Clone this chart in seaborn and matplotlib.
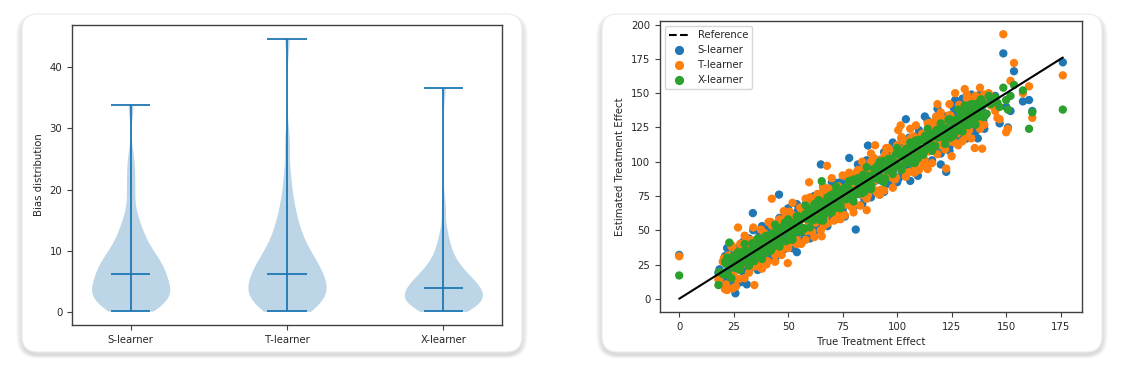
import numpy as np
import pandas as pd
import seaborn as sns
import matplotlib.pyplot as plt
from matplotlib.patches import FancyBboxPatch
from matplotlib.lines import Line2D

# --- data ---
learners = ["S-learner", "T-learner", "X-learner"]
colors = ["#1f77b4", "#ff7f0e", "#2ca02c"]

# bias samples (approximate quantiles of each violin)
bias_s = [0.1, 0.25, 0.6, 0.95, 1.25, 1.55, 1.85, 2.13, 2.39, 2.64, 2.9, 3.16, 3.42, 3.68, 3.93,
          4.3, 4.6, 4.9, 5.2, 5.55, 5.9, 6.5, 6.8, 7.0, 7.3, 7.6, 7.9, 8.25, 8.72, 9.2, 9.67,
          10.2, 10.9, 11.6, 12.4, 13.4, 14.5, 16.0, 19.2, 22.0, 25.0, 33.8]
bias_t = [0.05, 0.2, 0.55, 0.93, 1.23, 1.51, 1.79, 2.07, 2.35, 2.63, 2.9, 3.18, 3.45, 3.72, 3.99,
          4.4, 4.75, 5.1, 5.45, 5.8, 6.1, 6.3, 6.7, 7.1, 7.5, 7.9, 8.27, 8.72, 9.18, 9.64,
          10.18, 10.97, 11.75, 12.55, 13.46, 14.55, 15.7, 17.4, 19.4, 22.7, 28.0, 44.7]
bias_x = [0.05, 0.12, 0.36, 0.6, 0.82, 1.03, 1.19, 1.36, 1.52, 1.68, 1.85, 2.01, 2.17, 2.33,
          2.49, 2.65, 2.81, 3.1, 3.3, 3.55, 3.8, 4.0, 4.1, 4.4, 4.6, 4.8, 5.0, 5.13, 5.47, 5.81,
          6.15, 6.49, 6.9, 7.42, 7.94, 8.46, 9.2, 10.3, 11.6, 13.0, 17.0, 36.7]

# scatter: spread-out points and outliers
true_effect = [0, 18, 18.5, 20, 21, 22, 22.5, 23, 24, 24.5, 25, 25.8, 26.5, 27, 28, 29, 30, 31, 32, 33,
               33.8, 34.5, 35, 36, 37, 38, 39, 40, 41, 42, 42.5, 43, 44, 45, 45.8, 46.5, 47, 48, 49, 49.8,
               50.5, 51, 52, 53, 54, 55, 56, 57, 58, 59, 59.6, 60.5, 61, 62, 63, 64, 65, 65.4, 66, 67,
               67.8, 68.5, 69, 70, 71, 72, 73, 74, 75, 76, 77, 78, 79, 80, 81, 82, 83, 84, 85, 86,
               86.6, 88, 89, 89.9, 91, 92, 93, 94, 95, 96, 97, 98, 99, 100.5, 101.6, 103, 104, 105, 106, 107,
               108, 108.6, 109.5, 111, 112.7, 114, 115, 116, 118, 118.5, 120, 121, 122.5, 124, 125, 126.6, 128, 129, 131, 132,
               133, 134, 135.6, 137, 138, 139, 140, 141, 142, 143, 145, 146, 147, 148.7, 150, 150.8, 152, 153.6, 157.7, 160.5,
               162, 176]
est_s = [32, 19, 21.5, 16, 31, 20, 15.5, 28, 13, 25.5, 33, 4, 28.5, 14, 35, 28, 34, 10.5, 44, 30,
         62.5, 25.5, 38, 32, 47, 36, 32, 45, 30, 43, 50.5, 38, 46, 32, 76, 45.5, 51, 40, 61, 46.8,
         56.5, 42, 55, 49, 34, 53, 49, 62, 47, 60, 67.6, 55.5, 63, 49, 70, 63, 98, 57.4, 78, 64,
         73.8, 59.5, 72, 66, 81, 70, 66, 79, 64, 77, 85, 102.7, 81, 67, 50.5, 81, 87, 76, 97, 83,
         111.8, 79, 92, 85.9, 101, 90, 86, 78, 84, 97, 105, 93, 101, 87.5, 108.6, 102, 131, 97, 86, 104,
         114, 99.6, 89.7, 107, 133, 112, 108, 121, 107, 138.7, 98, 116, 92.6, 111, 132, 145, 132, 121, 143, 129,
         139, 125, 138.6, 117, 148, 137, 133, 146, 146, 144, 148, 140, 128, 179, 140, 125, 137, 166, 144, 145,
         137, 172.5]
est_t = [31, 14, 14.5, 27, 7, 6.4, 31.5, 17, 39, 7.6, 17, 30.8, 14.5, 52, 27, 35, 15, 33, 43, 26,
         23.8, 10, 31, 43, 23, 41, 48, 34, 56, 40, 73, 48, 32, 55, 44.8, 52.5, 32, 50, 60, 26,
         40.5, 63, 48, 60, 40, 58, 65, 51, 73, 57, 85, 65.5, 49, 72, 62, 70, 50, 45.6, 77, 60,
         97, 80.5, 65, 77, 57, 75, 82, 68, 90, 74, 69, 83, 67, 90, 80, 88, 68, 86, 96, 64.7,
         76.6, 100, 85, 112, 77, 95, 102, 88, 110, 94, 89, 103, 87, 123, 126.5, 109, 89, 107, 117, 100,
         92, 126.5, 105.5, 118, 98.7, 94.6, 124, 110, 133, 142, 112, 126, 95, 134, 104, 150, 113, 131, 153, 149,
         123, 146, 110, 144, 124, 109.5, 149, 135, 150, 141, 137, 132, 131, 193, 121.5, 124, 159, 172, 150, 155,
         132, 163]
est_x = [17, 10, 19.5, 18, 27, 18, 24.5, 41, 28, 23.5, 30, 22.8, 26.5, 34, 23, 31, 27, 35, 25, 34,
         36.8, 29.5, 36, 34, 43, 34, 41, 34, 45, 41, 47.5, 40, 44, 52, 40.8, 48.5, 44, 52, 42, 50.8,
         53.5, 46, 53, 51, 60, 51, 58, 51, 62, 58, 64.6, 57.5, 61, 69, 58, 66, 62, 85.8, 59, 68,
         70.8, 63.5, 70, 68, 77, 68, 75, 68, 79, 75, 82, 75, 79, 87, 76, 84, 80, 88, 78, 87,
         89.6, 83, 90, 87.9, 97, 88, 95, 88, 99, 95, 102, 95, 99, 107.5, 96.6, 105, 101, 109, 99, 108,
         111, 103.6, 110.5, 109, 118.7, 110, 117, 110, 122, 117.5, 125, 118, 122.5, 131, 120, 128.6, 125, 133, 141, 133,
         141, 129, 142, 135, 141, 135, 142, 135, 148, 142, 147, 143, 140, 154, 145, 138, 148, 156, 152, 124,
         136, 138]

# scatter: dense band along the diagonal
band_true = [20.5, 21.5, 22.5, 23.5, 24.5, 25.5, 26.5, 27.5, 28.5, 29.5, 30.5, 31.5, 32.5, 33.5, 34.5,
             35.5, 36.5, 37.5, 38.5, 39.5, 40.5, 41.5, 42.5, 43.5, 44.5, 45.5, 46.5, 47.5, 48.5, 49.5,
             50.5, 51.5, 52.5, 53.5, 54.5, 55.5, 56.5, 57.5, 58.5, 59.5, 60.5, 61.5, 62.5, 63.5, 64.5,
             65.5, 66.5, 67.5, 68.5, 69.5, 70.5, 71.5, 72.5, 73.5, 74.5, 75.5, 76.5, 77.5, 78.5, 79.5,
             80.5, 81.5, 82.5, 83.5, 84.5, 85.5, 86.5, 87.5, 88.5, 89.5, 90.5, 91.5, 92.5, 93.5, 94.5,
             95.5, 96.5, 97.5, 98.5, 99.5, 100.5, 101.5, 102.5, 103.5, 104.5, 105.5, 106.5, 107.5, 108.5, 109.5,
             110.5, 111.5, 112.5, 113.5, 114.5, 115.5, 116.5, 117.5, 118.5, 119.5, 120.5, 121.5, 122.5, 123.5, 124.5,
             125.5, 126.5, 127.5, 128.5, 129.5, 130.5, 131.5, 132.5, 133.5, 134.5, 135.5, 136.5, 137.5, 138.5, 139.5]
band_s = [12.5, 31.5, 19.5, 29.5, 12.5, 27.5, 35.5, 21.5, 40.5, 19.5, 34.5, 23.5, 42.5, 30.5, 40.5,
          23.5, 38.5, 46.5, 32.5, 51.5, 30.5, 45.5, 34.5, 53.5, 41.5, 51.5, 34.5, 49.5, 57.5, 43.5,
          62.5, 41.5, 56.5, 45.5, 64.5, 52.5, 62.5, 45.5, 60.5, 68.5, 54.5, 73.5, 52.5, 67.5, 56.5,
          75.5, 63.5, 73.5, 56.5, 71.5, 79.5, 65.5, 84.5, 63.5, 78.5, 67.5, 86.5, 74.5, 84.5, 67.5,
          82.5, 90.5, 76.5, 95.5, 74.5, 89.5, 78.5, 97.5, 85.5, 95.5, 78.5, 93.5, 101.5, 87.5, 106.5,
          85.5, 100.5, 89.5, 108.5, 96.5, 106.5, 89.5, 104.5, 112.5, 98.5, 117.5, 96.5, 111.5, 100.5, 119.5,
          107.5, 117.5, 100.5, 115.5, 123.5, 109.5, 128.5, 107.5, 122.5, 111.5, 130.5, 118.5, 128.5, 111.5, 126.5,
          134.5, 120.5, 139.5, 118.5, 133.5, 122.5, 141.5, 129.5, 139.5, 122.5, 137.5, 145.5, 131.5, 141.5, 129.5]
band_t = [29.5, 10.5, 26.5, 16.5, 37.5, 22.5, 33.5, 14.5, 29.5, 40.5, 25.5, 36.5, 23.5, 42.5, 23.5,
          39.5, 29.5, 50.5, 35.5, 46.5, 27.5, 42.5, 53.5, 38.5, 49.5, 36.5, 55.5, 36.5, 52.5, 42.5,
          63.5, 48.5, 59.5, 40.5, 55.5, 66.5, 51.5, 62.5, 49.5, 68.5, 49.5, 65.5, 55.5, 76.5, 61.5,
          72.5, 53.5, 68.5, 79.5, 64.5, 75.5, 62.5, 81.5, 62.5, 78.5, 68.5, 89.5, 74.5, 85.5, 66.5,
          81.5, 92.5, 77.5, 88.5, 75.5, 94.5, 75.5, 91.5, 81.5, 102.5, 87.5, 98.5, 79.5, 94.5, 105.5,
          90.5, 101.5, 88.5, 107.5, 88.5, 104.5, 94.5, 115.5, 100.5, 111.5, 92.5, 107.5, 118.5, 103.5, 114.5,
          101.5, 120.5, 101.5, 117.5, 107.5, 128.5, 113.5, 124.5, 105.5, 120.5, 131.5, 116.5, 127.5, 114.5, 133.5,
          114.5, 130.5, 120.5, 141.5, 126.5, 137.5, 118.5, 133.5, 144.5, 129.5, 140.5, 127.5, 146.5, 127.5, 143.5]
band_x = [18.5, 25.5, 17.5, 24.5, 30.5, 22.5, 29.5, 21.5, 28.5, 34.5, 29.5, 27.5, 34.5, 40.5, 27.5,
          33.5, 40.5, 32.5, 39.5, 45.5, 37.5, 44.5, 36.5, 43.5, 49.5, 44.5, 42.5, 49.5, 55.5, 42.5,
          48.5, 55.5, 47.5, 54.5, 60.5, 52.5, 59.5, 51.5, 58.5, 64.5, 59.5, 57.5, 64.5, 70.5, 57.5,
          63.5, 70.5, 62.5, 69.5, 75.5, 67.5, 74.5, 66.5, 73.5, 79.5, 74.5, 72.5, 79.5, 85.5, 72.5,
          78.5, 85.5, 77.5, 84.5, 90.5, 82.5, 89.5, 81.5, 88.5, 94.5, 89.5, 87.5, 94.5, 100.5, 87.5,
          93.5, 100.5, 92.5, 99.5, 105.5, 97.5, 104.5, 96.5, 103.5, 109.5, 104.5, 102.5, 109.5, 115.5, 102.5,
          108.5, 115.5, 107.5, 114.5, 120.5, 112.5, 119.5, 111.5, 118.5, 124.5, 119.5, 117.5, 124.5, 130.5, 117.5,
          123.5, 130.5, 122.5, 129.5, 135.5, 127.5, 134.5, 126.5, 133.5, 139.5, 134.5, 132.5, 139.5, 145.5, 132.5]

# scatter: outer edge of the band
edge_true = [22, 24, 26, 28, 30, 32, 34, 36, 38, 40, 42, 44, 46, 48, 50, 52, 54, 56, 58, 60,
             62, 64, 66, 68, 70, 72, 74, 76, 78, 80, 82, 84, 86, 88, 90, 92, 94, 96, 98, 100,
             102, 104, 106, 108, 110, 112, 114, 116, 118, 120, 122, 124, 126, 128, 130, 132, 134, 136, 138, 140]
edge_s = [37, 10, 37, 12, 43, 20, 50, 21, 53, 26, 53, 28, 59, 36, 66, 37, 69, 42, 69, 44,
          75, 52, 82, 53, 85, 58, 85, 60, 91, 68, 98, 69, 101, 74, 101, 76, 107, 84, 114, 85,
          117, 90, 117, 92, 123, 100, 130, 101, 133, 106, 133, 108, 139, 116, 146, 117, 149, 122, 149, 124]
edge_t = [7, 38, 9, 40, 46, 19, 52, 25, 22, 25, 56, 27, 58, 64, 37, 70, 43, 40, 43, 74,
          45, 76, 82, 55, 88, 61, 58, 61, 92, 63, 94, 100, 73, 106, 79, 76, 79, 110, 81, 112,
          118, 91, 124, 97, 94, 97, 128, 99, 130, 136, 109, 142, 115, 112, 115, 146, 117, 148, 154, 127]
edge_x = [30, 15, 32, 21, 40, 24, 39, 44, 29, 46, 35, 54, 38, 53, 58, 43, 60, 49, 68, 52,
          67, 72, 57, 74, 63, 82, 66, 81, 86, 71, 88, 77, 96, 80, 95, 100, 85, 102, 91, 110,
          94, 109, 114, 99, 116, 105, 124, 108, 123, 128, 113, 130, 119, 138, 122, 137, 142, 127, 144, 133]

sns.set_style("ticks")
plt.rcParams["font.family"] = ["DejaVu Sans"]
plt.rcParams["font.size"] = 7.3

fig = plt.figure(figsize=(11.46, 3.82), dpi=100)
fig.patch.set_facecolor("white")

# background layer in pixel units for the two cards
bg = fig.add_axes([0, 0, 1, 1], zorder=-10)
bg.set_xlim(0, 1146)
bg.set_ylim(382, 0)
bg.axis("off")


def card(x0, y0, x1, y1):
    for k in range(12, 0, -1):
        bg.add_patch(FancyBboxPatch((x0 - k * 0.5, y0 - k * 0.3 + 3), x1 - x0 + k, y1 - y0 + k * 0.6,
                                    boxstyle="round,pad=0,rounding_size=%.1f" % (16 + k * 0.5),
                                    fc="black", ec="none", alpha=0.012))
    bg.add_patch(FancyBboxPatch((x0, y0), x1 - x0, y1 - y0, boxstyle="round,pad=0,rounding_size=16",
                                fc="white", ec="#ededed", lw=0.8))


card(22, 14, 522, 352)
card(602, 14, 1102, 352)

# left: violins
ax1 = fig.add_axes([72 / 1146, 1 - 325 / 382, 430 / 1146, 300 / 382])
bias = pd.DataFrame({
    "learner": ["S-learner"] * len(bias_s) + ["T-learner"] * len(bias_t) + ["X-learner"] * len(bias_x),
    "bias": bias_s + bias_t + bias_x,
})
sns.violinplot(data=bias, x="learner", y="bias", order=learners, color="#bcd6e8", saturation=1,
               linewidth=0, linecolor="#bcd6e8", inner=None, cut=0, density_norm="width",
               width=0.5, bw_adjust=0.6, ax=ax1)
for i, vals in enumerate([bias_s, bias_t, bias_x]):
    ax1.vlines(i, min(vals), max(vals), color=colors[0], lw=1.3)
    ax1.hlines([min(vals), np.median(vals), max(vals)], i - 0.125, i + 0.125, color=colors[0], lw=1.3)
ax1.set_xlim(-0.375, 2.375)
ax1.set_xlabel("")
ax1.set_ylabel("Bias distribution")

# right: scatter
ax2 = fig.add_axes([660 / 1146, 1 - 312 / 382, 422 / 1146, 291 / 382])
xs = true_effect + band_true + edge_true
pts = pd.DataFrame({
    "true": xs * 3,
    "est": (est_s + band_s + edge_s) + (est_t + band_t + edge_t) + (est_x + band_x + edge_x),
    "learner": ["S-learner"] * len(xs) + ["T-learner"] * len(xs) + ["X-learner"] * len(xs),
})
sns.scatterplot(data=pts, x="true", y="est", hue="learner", palette=colors, s=36, linewidth=0,
                alpha=1, legend=False, ax=ax2)
ref = [min(true_effect), max(true_effect)]
ax2.plot(ref, ref, color="black", lw=1.5)
ax2.set_xticks(range(0, 176, 25))
ax2.set_yticks(range(0, 201, 25))
ax2.set_xlabel("True Treatment Effect")
ax2.set_ylabel("Estimated Treatment Effect")

handles = [Line2D([], [], color="black", ls="--", lw=1.5)]
handles += [Line2D([], [], ls="", marker="o", ms=5.6, color=c) for c in colors]
ax2.legend(handles, ["Reference"] + learners, loc="upper left", frameon=True, fancybox=True,
           framealpha=0.8, edgecolor="#cccccc", handlelength=2.0)

for ax in (ax1, ax2):
    for sp in ax.spines.values():
        sp.set_visible(True)
        sp.set_color("#404040")
        sp.set_linewidth(1.0)
    ax.tick_params(length=3.5, width=0.8, color="#404040", labelcolor="#262626", labelsize=7.3)

fig.savefig("out.png", dpi=100, facecolor="white")
